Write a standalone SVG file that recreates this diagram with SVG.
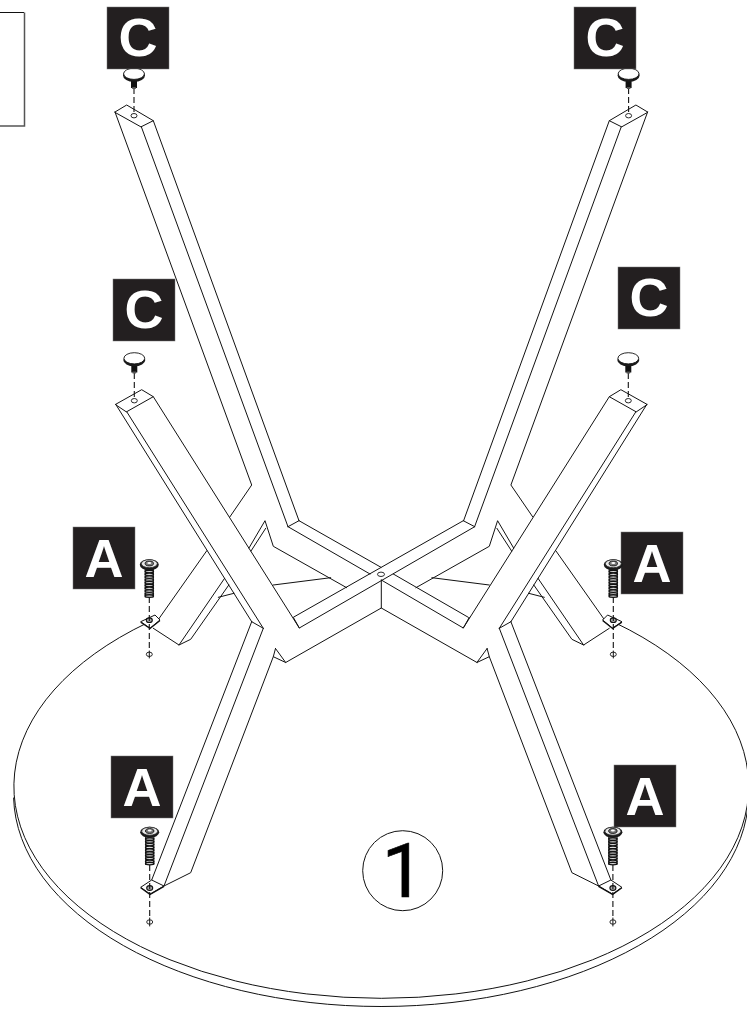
<svg xmlns="http://www.w3.org/2000/svg" xmlns:xlink="http://www.w3.org/1999/xlink" width="747" height="1022" viewBox="0 0 747 1022">
<style>
.l{fill:none;stroke:#111;stroke-width:1;stroke-linejoin:round;stroke-linecap:round}
.box{fill:#231f20;stroke:#777;stroke-width:.5}
.lab{font-family:"Liberation Sans",Arial,sans-serif;font-weight:700;font-size:54px;fill:#fff;text-anchor:middle}
.dash{fill:none;stroke:#111;stroke-width:1.1;stroke-dasharray:6 3}
.hole{fill:#fff;stroke:#111;stroke-width:.9}
</style>
<defs>
<g id="screw">
<g fill="#ddd" stroke="#111" stroke-width="1.35">
<rect x="-4.2" y="4" width="8.4" height="29" stroke-width=".8"/>
<ellipse cx="0" cy="7.5" rx="4.2" ry="1.3"/><ellipse cx="0" cy="10.3" rx="4.2" ry="1.3"/><ellipse cx="0" cy="13.1" rx="4.2" ry="1.3"/><ellipse cx="0" cy="15.9" rx="4.2" ry="1.3"/><ellipse cx="0" cy="18.7" rx="4.2" ry="1.3"/><ellipse cx="0" cy="21.5" rx="4.2" ry="1.3"/><ellipse cx="0" cy="24.3" rx="4.2" ry="1.3"/><ellipse cx="0" cy="27.1" rx="4.2" ry="1.3"/><ellipse cx="0" cy="29.9" rx="4.2" ry="1.3"/><ellipse cx="0" cy="32" rx="4.2" ry="1.3"/>
</g>
<ellipse cx="0" cy=".8" rx="9.5" ry="5.6" fill="#1a1a1a"/>
<ellipse cx="0" cy="-.3" rx="8" ry="4" fill="#e8e8e8" stroke="#222" stroke-width=".8"/>
<ellipse cx="0" cy="-.5" rx="4.2" ry="2.4" fill="#777" stroke="#111" stroke-width=".9"/>
<ellipse cx="0" cy="-1" rx="2" ry="1" fill="#fff"/>
</g>
<g id="cap">
<rect x="-3" y="6" width="6" height="8" fill="#111"/>
<rect x="-1.8" y="13" width="3.6" height="2" fill="#555"/>
<ellipse cx="0" cy="1.4" rx="11" ry="6.4" fill="#1a1a1a"/>
<ellipse cx="0" cy="-.2" rx="10.4" ry="5.6" fill="#fff" stroke="#111" stroke-width=".9"/>
</g>
<g id="bracketB">
<path d="M140.7 621.7L155 615L160 620L150 628.3Z" fill="#fff" stroke="#111" stroke-width="1" stroke-linejoin="round"/>
<path d="M140.7 622.3L150 628.4L160 620.4" fill="none" stroke="#111" stroke-width="1.3"/>
<ellipse cx="149.3" cy="620.2" rx="3" ry="2.3" fill="#aaa" stroke="#111" stroke-width="1.1"/>
</g>
<g id="bracketF">
<path d="M140.7 887.3L151.7 880L164 886L150 894.3Z" fill="#fff" stroke="#111" stroke-width="1" stroke-linejoin="round"/>
<path d="M140.7 887.8L150 894.4L164 886.4" fill="none" stroke="#111" stroke-width="1.4"/>
<ellipse cx="149.7" cy="888" rx="3" ry="2.4" fill="#aaa" stroke="#111" stroke-width="1.1"/>
</g>
<g id="sideLines">
<path class="l" d="M115 112L126.7 105L153.3 120.7L141.3 126.7Z"/>
<path class="l" d="M115 112L251.7 485L230 516.7"/>
<path class="l" d="M141.3 126.7L288 526.7"/>
<path class="l" d="M153.3 120.7L299 520.7"/>
<ellipse class="hole" cx="134" cy="115.7" rx="3" ry="2.2"/>
<path class="l" d="M115.7 404.3L141.7 389.7L153.3 396.7L126.7 411.7Z"/>
<path class="l" d="M115.7 404.3L251.7 621.7"/>
<path class="l" d="M126.7 411.7L263.3 628.3"/>
<path class="l" d="M153.3 396.7L299.3 628"/>
<ellipse class="hole" cx="134.3" cy="400.7" rx="3" ry="2.2"/>
<path class="l" d="M251.7 621.7L263.3 628.3"/>
<path class="l" d="M251.7 621.7L151.7 880"/>
<path class="l" d="M263.3 628.3L164 886"/>
<path class="l" d="M273.3 656.7L190.7 872.7L164 886"/>
<path class="l" d="M275.5 648.5L273.3 656.7L285.7 662.5L275.5 648.5"/>
<path class="l" d="M249 548L265 520.7L273.3 546.3L346.7 587.7"/>
<path class="l" d="M251 551L265.7 528.3"/>
<path class="l" d="M273.3 585L330.7 577.7"/>
<path class="l" d="M206.8 550.7L158 620"/>
<path class="l" d="M153.3 628.3L179 645L190.7 639.3L228.8 585"/>
<path class="l" d="M179 645L224.6 578.3"/>
<path class="l" d="M218.3 597.3L234 593.3"/>
</g>
<g id="sideHardware">
<path class="dash" d="M134 88V114"/>
<path class="dash" d="M134.3 373V398"/>
</g>
<g id="sideFixings">
<use href="#bracketB"/>
<use href="#bracketF"/>
<path class="dash" d="M149.3 597V651"/>
<path class="dash" d="M149.7 865V918"/>
<ellipse class="hole" cx="149.3" cy="654.3" rx="3" ry="2.2"/>
<path class="l" d="M149.3 651V658"/>
<ellipse class="hole" cx="149.7" cy="922" rx="3" ry="2.2"/>
<path class="l" d="M149.7 918V926"/>
<use href="#screw" x="149.3" y="564"/>
<use href="#screw" x="149.7" y="831.5"/>
</g>
</defs>
<rect width="747" height="1022" fill="#fff"/>
<g id="sheet-edge">
<path d="M0 12.5H24" fill="none" stroke="#111" stroke-width="1"/>
<path d="M24.5 12.5V126H0" fill="none" stroke="#555" stroke-width="1.5"/>
</g>
<g id="table-top">
<path class="l" d="M147 623A367.5 212 0 1 0 615.6 623"/>
<path class="l" d="M13.6 798A367.5 212 0 0 0 748.5 798"/>
</g>
<g id="connectors">
<use href="#sideLines"/>
<use href="#sideLines" transform="matrix(-1 0 0 1 762.6 0)"/>
<path class="l" d="M463.3 520.7L293.3 617.3L299.3 628L474.7 526.7"/>
<path class="l" d="M288 526.7L370 574"/>
<path class="l" d="M299 520.7L381 567.3"/>
<path class="l" d="M288 526.7L299 520.7"/>
<path class="l" d="M474.7 526.7L463.3 520.7"/>
<path class="l" d="M393.3 574L468.3 617.3"/>
<path class="l" d="M381.3 580L463.3 628L469.3 617.3"/>
<path class="l" d="M381.3 580V608L285.7 662.5"/>
<path class="l" d="M381.3 608L477 662.5"/>
<ellipse class="hole" cx="381" cy="574.3" rx="3.5" ry="2.2"/>
<use href="#sideHardware"/>
<use href="#sideHardware" transform="matrix(-1 0 0 1 762.6 0)"/>
</g>
<g id="foot-c-1"><use href="#cap" x="134" y="74"/></g>
<g id="foot-c-2"><use href="#cap" x="628.6" y="74"/></g>
<g id="foot-c-3"><use href="#cap" x="134.3" y="358.5"/></g>
<g id="foot-c-4"><use href="#cap" x="628.3" y="358.5"/></g>
<g id="label-c-1"><rect class="box" x="107" y="7" width="62" height="62"/><text class="lab" x="138" y="55.5">C</text></g>
<g id="label-c-2"><rect class="box" x="574" y="7" width="62" height="62"/><text class="lab" x="605" y="55.5">C</text></g>
<g id="label-c-3"><rect class="box" x="113" y="279" width="62" height="62"/><text class="lab" x="144" y="327.5">C</text></g>
<g id="label-c-4"><rect class="box" x="618" y="267" width="62" height="62"/><text class="lab" x="649" y="315.5">C</text></g>
<g id="label-a-1"><rect class="box" x="73" y="527" width="62" height="62"/><text class="lab" x="104" y="577">A</text></g>
<g id="label-a-2"><rect class="box" x="621" y="532" width="62" height="62"/><text class="lab" x="652" y="582">A</text></g>
<g id="label-a-3"><rect class="box" x="111" y="756" width="62" height="62"/><text class="lab" x="142" y="806">A</text></g>
<g id="label-a-4"><rect class="box" x="614" y="765" width="62" height="62"/><text class="lab" x="645" y="815">A</text></g>
<g id="fixings">
<use href="#sideFixings"/>
<use href="#sideFixings" transform="matrix(-1 0 0 1 762.6 0)"/>
</g>
<g id="step-1">
<circle cx="402.7" cy="870.7" r="40" fill="none" stroke="#111" stroke-width="1"/>
<text x="403" y="897" font-family="Roboto,Arial,sans-serif" font-size="76" fill="#000" stroke="#000" stroke-width=".7" text-anchor="middle">1</text>
</g>
</svg>
